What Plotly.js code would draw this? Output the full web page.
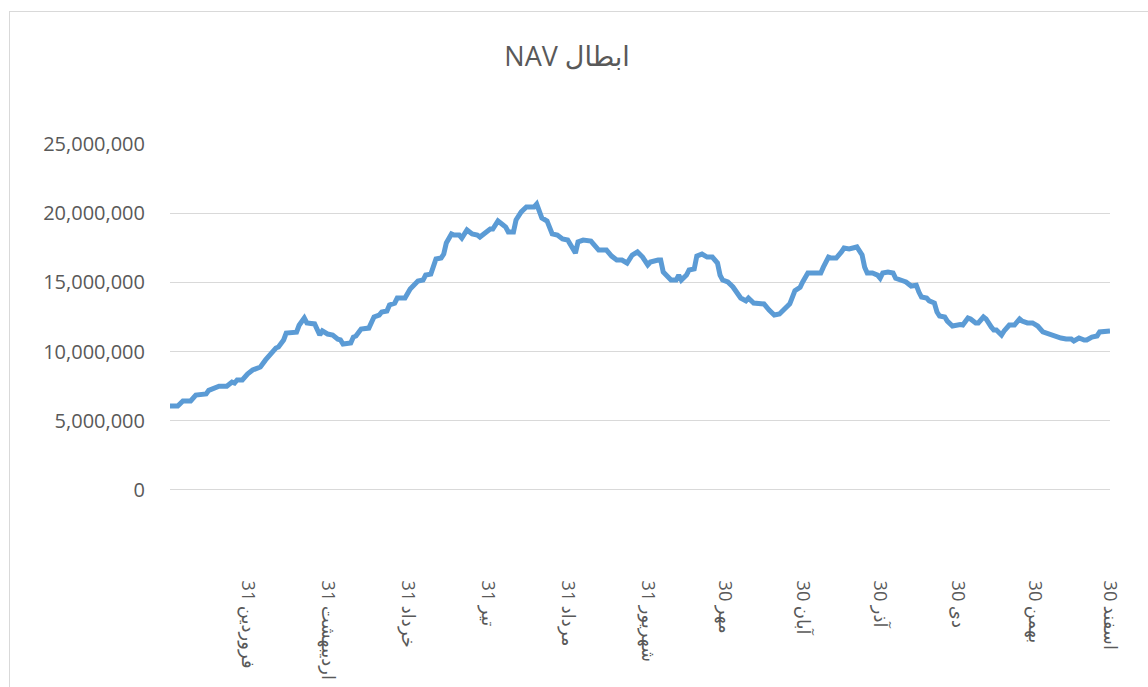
<!DOCTYPE html>
<html>
<head>
<meta charset="utf-8">
<script src="https://cdn.plot.ly/plotly-3.0.1.min.js"></script>
<style>
  html, body { margin: 0; padding: 0; background: #ffffff; }
  #wrap { position: relative; width: 1148px; height: 687px; overflow: hidden; }
  #frame { position: absolute; left: 9px; top: 11px; width: 1160px; height: 700px; border: 1px solid #d9d9d9; box-sizing: border-box; pointer-events: none; }
  #chart { position: absolute; left: 0; top: 0; width: 1148px; height: 687px; }
</style>
</head>
<body>
<div id="wrap">
  <div id="chart"></div>
  <div id="frame"></div>
</div>
<script>
// Day of the (Persian) year
const days = [
  1, 4, 6, 9, 11, 15, 16, 19, 20, 23, 25, 26, 27, 29, 31, 33, 36, 38, 40, 42,
  43, 45, 46, 50, 51, 53, 54, 57, 59, 60, 62, 64, 66, 67, 68, 71, 72, 73, 75, 78,
  80, 82, 83, 85, 86, 88, 89, 92, 94, 97, 99, 100, 102, 104, 106, 107, 108, 110, 111, 113,
  114, 116, 118, 120, 121, 123, 125, 126, 128, 130, 131, 132, 134, 135, 137, 139, 142, 143, 144, 145,
  147, 149, 151, 153, 155, 158, 159, 161, 164, 165, 167, 170, 172, 174, 176, 178, 180, 182, 184, 186,
  187, 190, 191, 192, 194, 195, 197, 198, 199, 201, 202, 204, 205, 207, 209, 211, 213, 214, 215, 217,
  219, 220, 222, 224, 225, 227, 230, 231, 233, 235, 237, 238, 240, 241, 243, 245, 246, 248, 251, 253,
  254, 256, 257, 259, 261, 262, 264, 267, 269, 270, 271, 273, 275, 276, 277, 279, 281, 282, 285, 286,
  288, 290, 291, 292, 294, 295, 297, 298, 299, 301, 302, 304, 307, 308, 310, 311, 313, 314, 316, 317,
  319, 320, 321, 323, 324, 326, 328, 330, 331, 333, 335, 337, 339, 341, 344, 346, 348, 350, 351, 353,
  355, 356, 358, 360, 361, 363, 365
];

// NAV (redemption) values
const nav = [
  6070000, 6070000, 6430000, 6430000, 6860000, 6940000, 7200000, 7370000, 7500000, 7500000,
  7800000, 7730000, 7950000, 7950000, 8380000, 8670000, 8890000, 9400000, 9900000, 10260000,
  10330000, 10840000, 11340000, 11400000, 11900000, 12430000, 12070000, 12000000, 11200000, 11490000,
  11270000, 11200000, 10900000, 10840000, 10550000, 10620000, 11050000, 11130000, 11630000, 11700000,
  12500000, 12640000, 12860000, 12930000, 13370000, 13500000, 13870000, 13870000, 14520000, 15100000,
  15170000, 15530000, 15600000, 16690000, 16760000, 17050000, 17850000, 18500000, 18420000, 18420000,
  18200000, 18790000, 18500000, 18420000, 18280000, 18570000, 18860000, 18860000, 19440000, 19150000,
  19000000, 18640000, 18640000, 19510000, 20090000, 20450000, 20450000, 20660000, 20160000, 19650000,
  19440000, 18500000, 18420000, 18140000, 18060000, 17120000, 17920000, 18060000, 17990000, 17780000,
  17340000, 17340000, 16900000, 16620000, 16620000, 16400000, 16980000, 17200000, 16830000, 16260000,
  16470000, 16620000, 16620000, 15750000, 15390000, 15170000, 15170000, 15530000, 15170000, 15530000,
  15900000, 15970000, 16900000, 17050000, 16830000, 16830000, 16400000, 15530000, 15170000, 15030000,
  14670000, 14450000, 13870000, 13660000, 13870000, 13510000, 13510000, 13440000, 13000000, 12640000,
  12720000, 12930000, 13220000, 13450000, 14400000, 14650000, 15030000, 15680000, 15680000, 15680000,
  16100000, 16830000, 16760000, 16760000, 17200000, 17480000, 17410000, 17560000, 16980000, 16100000,
  15680000, 15680000, 15530000, 15300000, 15680000, 15750000, 15680000, 15300000, 15100000, 15030000,
  14740000, 14800000, 14300000, 13940000, 13870000, 13660000, 13510000, 12860000, 12570000, 12500000,
  12200000, 11850000, 11950000, 11920000, 12430000, 12360000, 12070000, 12070000, 12500000, 12360000,
  11780000, 11560000, 11560000, 11200000, 11490000, 11920000, 11920000, 12360000, 12200000, 12070000,
  12070000, 11850000, 11420000, 11270000, 11050000, 10980000, 10910000, 10910000, 10770000, 10980000,
  10840000, 10840000, 11050000, 11130000, 11420000, 11490000, 11490000
];

// Month-end tick positions and labels
const tickDays = [31, 62, 93, 124, 155, 186, 216, 246, 276, 306, 336, 365];
const tickLabels = [
  "31 فروردین", "31 اردیبهشت", "31 خرداد", "31 تیر", "31 مرداد", "31 شهریور",
  "30 مهر", "30 آبان", "30 آذر", "30 دی", "30 بهمن", "30 اسفند"
];

// Value-axis ticks
const yTicks = [0, 5000000, 10000000, 15000000, 20000000, 25000000];
const yTickLabels = ["0", "5,000,000", "10,000,000", "15,000,000", "20,000,000", "25,000,000"];

const chartTitle = "\u202Bابطال NAV\u202C";

const FONT = "'Open Sans', 'DejaVu Sans', sans-serif";

const trace = {
  type: "scatter",
  mode: "lines",
  x: days,
  y: nav,
  line: { color: "#5B9BD5", width: 5, shape: "linear" },
  hoverinfo: "x+y"
};

const layout = {
  width: 1148,
  height: 687,
  paper_bgcolor: "#ffffff",
  plot_bgcolor: "#ffffff",
  margin: { l: 170, r: 38, t: 144, b: 113, pad: 0 },
  showlegend: false,
  title: {
    text: chartTitle,
    font: { family: FONT, size: 27, color: "#595959" },
    x: 0.494,
    xanchor: "center",
    xref: "container",
    y: 1 - 57 / 687,
    yanchor: "middle",
    yref: "container"
  },
  xaxis: {
    type: "linear",
    range: [1, 365],
    tickmode: "array",
    tickvals: tickDays,
    ticktext: tickLabels,
    tickangle: 90,
    showgrid: false,
    zeroline: false,
    showline: false,
    ticks: "outside",
    ticklen: 2,
    tickcolor: "rgba(0,0,0,0)",
    tickfont: { family: FONT, size: 18, color: "#595959" },
    automargin: false,
    fixedrange: true
  },
  yaxis: {
    range: [-6070000, 25000000],
    tickmode: "array",
    tickvals: yTicks,
    ticktext: yTickLabels,
    showgrid: true,
    gridcolor: "#d9d9d9",
    gridwidth: 1,
    zeroline: false,
    showline: false,
    ticks: "outside",
    ticklen: 20,
    tickcolor: "rgba(0,0,0,0)",
    tickfont: { family: FONT, size: 20, color: "#595959" },
    automargin: false,
    fixedrange: true
  }
};

Plotly.newPlot("chart", [trace], layout, { displayModeBar: false, staticPlot: true });
</script>
</body>
</html>
